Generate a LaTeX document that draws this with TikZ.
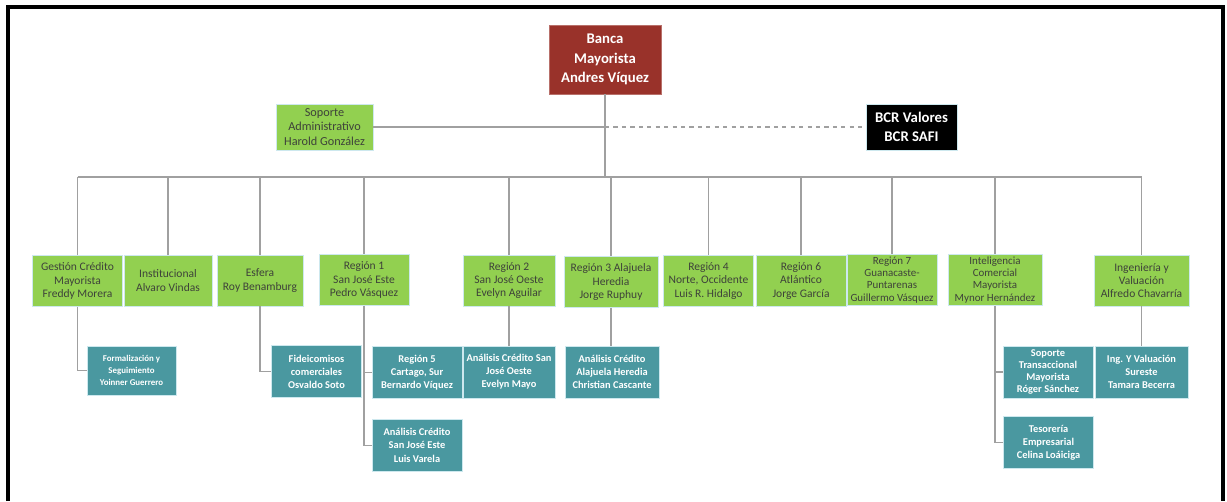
\documentclass[tikz,border=0pt]{standalone}
\usepackage{fontspec}
\setmainfont{Carlito}
\usepackage{xcolor}
\usepackage{tikz}
\usetikzlibrary{positioning}

\definecolor{rojoBanca}{RGB}{153,50,42}
\definecolor{verdeArea}{RGB}{146,208,80}
\definecolor{tealUnidad}{RGB}{74,152,160}
\definecolor{bordeCaja}{RGB}{205,232,238}
\definecolor{grisLinea}{RGB}{160,160,160}
\definecolor{textoArea}{RGB}{62,66,58}

\begin{document}
\begin{tikzpicture}[
    x=0.025cm, y=-0.025cm,
    jefe/.style={rectangle, draw=rojoBanca!70!white, fill=rojoBanca, text=white, align=center, inner sep=1pt, minimum width=2.8cm, minimum height=1.725cm, font=\fontsize{10.5}{14}\selectfont\bfseries},
    filial/.style={rectangle, draw=bordeCaja, line width=0.6pt, fill=black, text=white, align=center, inner sep=1pt, minimum width=2.275cm, minimum height=1.15cm, font=\fontsize{10.5}{14}\selectfont\bfseries},
    area/.style={rectangle, draw=bordeCaja, line width=0.6pt, fill=verdeArea, text=textoArea, align=center, inner sep=1pt, minimum width=2.25cm, minimum height=1.275cm, font=\fontsize{8.2}{9.5}\selectfont},
    unidad/.style={rectangle, draw=bordeCaja, line width=0.6pt, fill=tealUnidad, text=white, align=center, inner sep=1pt, minimum width=2.25cm, minimum height=1.3cm, font=\fontsize{7.4}{9.3}\selectfont\bfseries},
    apretado/.style={font=\fontsize{7.8}{8.6}\selectfont},
    linea/.style={draw=grisLinea, line width=0.9pt}
]
\useasboundingbox (0,0) rectangle (1227,501);
\draw[line width=2.2pt] (8,501) -- (8,7) -- (1223,7) -- (1223,501);

\node[jefe] (banca) at (605,59.5) {Banca\\Mayorista\\Andres Víquez};
\node[area, minimum width=2.425cm, minimum height=1.15cm, font=\fontsize{8.7}{10.2}\selectfont] (soporte) at (324.5,127) {Soporte\\Administrativo\\Harold González};
\node[filial] (bcr) at (911.5,127) {BCR Valores\\BCR SAFI};

\node[area] (gestion) at (77.5,281) {Gestión Crédito\\Mayorista\\Freddy Morera};
\node[area, minimum width=2.2cm] (institucional) at (168,280.5) {Institucional\\Alvaro Vindas};
\node[area, minimum width=2.15cm] (esfera) at (260,280.5) {Esfera\\Roy Benamburg};
\node[area] (region1) at (364,280) {Región 1\\San José Este\\Pedro Vásquez};
\node[area, minimum width=2.3cm] (region2) at (509,280.5) {Región 2\\San José Oeste\\Evelyn Aguilar};
\node[area, minimum width=2.35cm] (region3) at (611,282) {Región 3 Alajuela\\Heredia\\Jorge Ruphuy};
\node[area] (region4) at (708.5,281) {Región 4\\Norte, Occidente\\Luis R. Hidalgo};
\node[area] (region6) at (801,281) {Región 6\\Atlántico\\Jorge García};
\node[area, apretado] (region7) at (892,280) {Región 7\\Guanacaste-\\Puntarenas\\Guillermo Vásquez};
\node[area, apretado, minimum width=2.35cm] (inteligencia) at (995,280) {Inteligencia\\Comercial\\Mayorista\\Mynor Hernández};
\node[area, minimum width=2.375cm] (ingenieria) at (1141.5,280.5) {Ingeniería y\\Valuación\\Alfredo Chavarría};

\node[unidad, minimum width=2.225cm, minimum height=1.225cm, font=\fontsize{6.3}{8.6}\selectfont\bfseries] (formalizacion) at (131.5,370.5) {Formalización y\\Seguimiento\\Yoinner Guerrero};
\node[unidad] (fideicomisos) at (316.5,371.5) {Fideicomisos\\comerciales\\Osvaldo Soto};
\node[unidad] (region5) at (417,372.5) {Región 5\\Cartago, Sur\\Bernardo Víquez};
\node[unidad, below=0.5cm of region5] (analisisSJE) {Análisis Crédito\\San José Este\\Luis Varela};
\node[unidad, minimum width=2.3cm] (analisisSJO) at (509,372) {Análisis Crédito San\\José Oeste\\Evelyn Mayo};
\node[unidad, minimum width=2.35cm] (analisisAH) at (612,372) {Análisis Crédito\\Alajuela Heredia\\Christian Cascante};
\node[unidad, font=\fontsize{7.4}{8.4}\selectfont\bfseries] (transaccional) at (1048,372) {Soporte\\Transaccional\\Mayorista\\Róger Sánchez};
\node[unidad, minimum width=2.325cm] (ingSureste) at (1141.5,372) {Ing. Y Valuación\\Sureste\\Tamara Becerra};
\node[unidad] (tesoreria) at (1048.5,442.5) {Tesorería\\Empresarial\\Celina Loáiciga};

\coordinate (bus) at (605,177);
\draw[linea] (banca.south) -- (bus);
\draw[linea] (bus -| gestion.north) -- (bus -| ingenieria.north);
\foreach \a in {gestion,institucional,esfera,region1,region2,region3,region4,region6,region7,inteligencia,ingenieria}
    \draw[linea] (bus -| \a.north) -- (\a.north);

\draw[linea] (soporte.east) -- (soporte.east -| banca.south);
\draw[linea, dashed] (soporte.east -| banca.south) -- (bcr.west);

\draw[linea] (gestion.south) |- (formalizacion.west);
\draw[linea] (esfera.south) |- (fideicomisos.west);
\draw[linea] (region1.south) |- (region5.west);
\draw[linea] (region1.south) |- (analisisSJE.west);
\draw[linea] (region2.south) -- (analisisSJO.north);
\draw[linea] (region3.south) -- (region3.south |- analisisAH.north);
\draw[linea] (inteligencia.south) |- (transaccional.west);
\draw[linea] (inteligencia.south) |- (tesoreria.west);
\draw[linea] (ingenieria.south) -- (ingSureste.north);

\end{tikzpicture}
\end{document}
